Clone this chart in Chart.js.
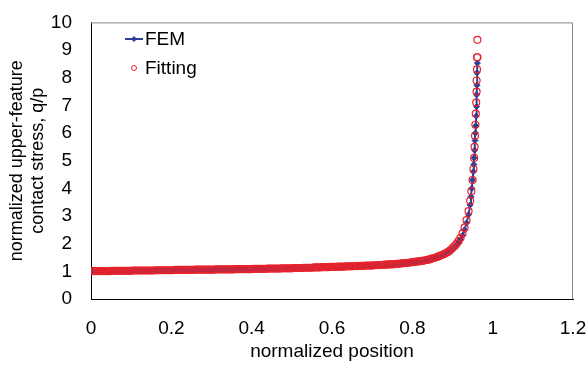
<!DOCTYPE html>
<html lang="en">
  <head>
    <meta charset="UTF-8" />
    <title>Normalized contact stress</title>
    <script src="https://cdn.jsdelivr.net/npm/chart.js"></script>
    <style>
      body {
        margin: 0;
        background: #fff;
      }
      .chart-container {
        width: 588px;
        height: 366px;
      }
    </style>
  </head>
  <body>
    <div class="chart-container">
      <canvas id="stressChart" width="588" height="366"></canvas>
    </div>

    <script>
      // normalized positions along the contact (shared by both series up to 0.90)
      const position = [
        0.0, 0.005, 0.01, 0.015, 0.02, 0.025, 0.03, 0.035, 0.04, 0.045,
        0.05, 0.055, 0.06, 0.065, 0.07, 0.075, 0.08, 0.085, 0.09, 0.095,
        0.1, 0.105, 0.11, 0.115, 0.12, 0.125, 0.13, 0.135, 0.14, 0.145,
        0.15, 0.155, 0.16, 0.165, 0.17, 0.175, 0.18, 0.185, 0.19, 0.195,
        0.2, 0.205, 0.21, 0.215, 0.22, 0.225, 0.23, 0.235, 0.24, 0.245,
        0.25, 0.255, 0.26, 0.265, 0.27, 0.275, 0.28, 0.285, 0.29, 0.295,
        0.3, 0.305, 0.31, 0.315, 0.32, 0.325, 0.33, 0.335, 0.34, 0.345,
        0.35, 0.355, 0.36, 0.365, 0.37, 0.375, 0.38, 0.385, 0.39, 0.395,
        0.4, 0.405, 0.41, 0.415, 0.42, 0.425, 0.43, 0.435, 0.44, 0.445,
        0.45, 0.455, 0.46, 0.465, 0.47, 0.475, 0.48, 0.485, 0.49, 0.495,
        0.5, 0.505, 0.51, 0.515, 0.52, 0.525, 0.53, 0.535, 0.54, 0.545,
        0.55, 0.555, 0.56, 0.565, 0.57, 0.575, 0.58, 0.585, 0.59, 0.595,
        0.6, 0.605, 0.61, 0.615, 0.62, 0.625, 0.63, 0.635, 0.64, 0.645,
        0.65, 0.655, 0.66, 0.665, 0.67, 0.675, 0.68, 0.685, 0.69, 0.695,
        0.7, 0.705, 0.71, 0.715, 0.72, 0.725, 0.73, 0.735, 0.74, 0.745,
        0.75, 0.755, 0.76, 0.765, 0.77, 0.775, 0.78, 0.785, 0.79, 0.795,
        0.8, 0.805, 0.81, 0.815, 0.82, 0.825, 0.83, 0.835, 0.84, 0.845,
        0.85, 0.855, 0.86, 0.865, 0.87, 0.875, 0.88, 0.885, 0.89, 0.895,
        0.9,
      ];

      const femBody = [
        1.0, 1.0, 1.0, 1.0, 1.0, 1.0, 1.01, 1.0, 1.01, 1.01,
        1.01, 1.01, 1.01, 1.01, 1.01, 1.01, 1.01, 1.01, 1.01, 1.02,
        1.01, 1.02, 1.02, 1.02, 1.02, 1.02, 1.02, 1.02, 1.02, 1.02,
        1.02, 1.02, 1.03, 1.03, 1.03, 1.03, 1.03, 1.03, 1.03, 1.03,
        1.03, 1.03, 1.04, 1.04, 1.04, 1.04, 1.04, 1.04, 1.04, 1.04,
        1.04, 1.04, 1.05, 1.05, 1.05, 1.05, 1.05, 1.05, 1.05, 1.05,
        1.05, 1.05, 1.06, 1.06, 1.06, 1.06, 1.06, 1.06, 1.06, 1.06,
        1.06, 1.06, 1.07, 1.07, 1.07, 1.07, 1.07, 1.07, 1.07, 1.07,
        1.07, 1.08, 1.08, 1.08, 1.08, 1.08, 1.08, 1.08, 1.09, 1.09,
        1.09, 1.09, 1.09, 1.09, 1.09, 1.1, 1.1, 1.1, 1.1, 1.1,
        1.1, 1.11, 1.11, 1.11, 1.11, 1.11, 1.12, 1.12, 1.12, 1.12,
        1.12, 1.13, 1.13, 1.13, 1.13, 1.14, 1.14, 1.14, 1.14, 1.15,
        1.15, 1.15, 1.15, 1.16, 1.16, 1.16, 1.16, 1.17, 1.17, 1.17,
        1.17, 1.18, 1.18, 1.18, 1.19, 1.19, 1.19, 1.2, 1.2, 1.2,
        1.2, 1.21, 1.21, 1.22, 1.22, 1.22, 1.23, 1.23, 1.24, 1.24,
        1.24, 1.25, 1.26, 1.26, 1.27, 1.28, 1.29, 1.29, 1.3, 1.31,
        1.32, 1.33, 1.34, 1.35, 1.36, 1.37, 1.38, 1.4, 1.41, 1.43,
        1.46, 1.48, 1.5, 1.52, 1.55, 1.58, 1.61, 1.65, 1.69, 1.75,
        1.81,
      ];

      const fitBody = [
        1.01, 1.01, 1.01, 1.01, 1.01, 1.01, 1.01, 1.01, 1.01, 1.01,
        1.02, 1.02, 1.02, 1.02, 1.02, 1.02, 1.02, 1.02, 1.02, 1.02,
        1.02, 1.03, 1.03, 1.03, 1.03, 1.03, 1.03, 1.03, 1.03, 1.03,
        1.03, 1.03, 1.04, 1.04, 1.04, 1.04, 1.04, 1.04, 1.04, 1.04,
        1.04, 1.04, 1.05, 1.05, 1.05, 1.05, 1.05, 1.05, 1.05, 1.05,
        1.05, 1.05, 1.06, 1.06, 1.06, 1.06, 1.06, 1.06, 1.06, 1.06,
        1.06, 1.06, 1.07, 1.07, 1.07, 1.07, 1.07, 1.07, 1.07, 1.07,
        1.07, 1.07, 1.08, 1.08, 1.08, 1.08, 1.08, 1.08, 1.08, 1.08,
        1.08, 1.09, 1.09, 1.09, 1.09, 1.09, 1.09, 1.09, 1.1, 1.1,
        1.1, 1.1, 1.1, 1.1, 1.1, 1.11, 1.11, 1.11, 1.11, 1.11,
        1.11, 1.12, 1.12, 1.12, 1.12, 1.12, 1.13, 1.13, 1.13, 1.13,
        1.13, 1.14, 1.14, 1.14, 1.14, 1.15, 1.15, 1.15, 1.15, 1.16,
        1.16, 1.16, 1.16, 1.17, 1.17, 1.17, 1.17, 1.18, 1.18, 1.18,
        1.18, 1.19, 1.19, 1.19, 1.2, 1.2, 1.2, 1.21, 1.21, 1.21,
        1.21, 1.22, 1.22, 1.23, 1.23, 1.23, 1.24, 1.24, 1.25, 1.25,
        1.25, 1.26, 1.27, 1.27, 1.28, 1.29, 1.3, 1.3, 1.31, 1.32,
        1.33, 1.34, 1.35, 1.36, 1.37, 1.38, 1.39, 1.41, 1.42, 1.44,
        1.47, 1.49, 1.51, 1.54, 1.57, 1.6, 1.63, 1.67, 1.71, 1.77,
        1.84,
      ];

      // steep rise near the edge of the contact
      const femTailX = [
        0.905, 0.91, 0.915, 0.92, 0.925, 0.93, 0.935, 0.94, 0.944, 0.946,
        0.948, 0.95, 0.952, 0.953, 0.954, 0.955, 0.956, 0.957, 0.958, 0.959,
        0.96, 0.96, 0.961, 0.961, 0.962,
      ];
      const femTailY = [
        1.88, 1.95, 2.04, 2.15, 2.3, 2.5, 2.75, 3.05, 3.4, 3.7,
        4.0, 4.3, 4.6, 4.86, 5.1, 5.38, 5.73, 6.0, 6.26, 6.61,
        6.96, 7.38, 7.73, 8.18, 8.53,
      ];

      const fitTailX = [
        0.905, 0.91, 0.915, 0.92, 0.925, 0.93, 0.935, 0.94, 0.944, 0.947,
        0.95, 0.952, 0.954, 0.955, 0.956, 0.957, 0.958, 0.959, 0.96, 0.96,
        0.961, 0.961, 0.962, 0.962,
      ];
      const fitTailY = [
        1.91, 1.99, 2.09, 2.21, 2.37, 2.58, 2.85, 3.18, 3.55, 3.9,
        4.3, 4.7, 5.1, 5.5, 5.9, 6.3, 6.7, 7.1, 7.5, 7.9,
        8.3, 8.74, 8.74, 9.37,
      ];

      const xTicks = [0, 0.2, 0.4, 0.6, 0.8, 1, 1.2];
      const yTicks = [0, 1, 2, 3, 4, 5, 6, 7, 8, 9, 10];

      const femColor = "#2b3f96";
      const fitColor = "#e8232b";
      const fontFamily = "'Liberation Sans', Arial, sans-serif";

      const toPoints = (xs, ys) => xs.map((x, i) => ({ x: x, y: ys[i] }));

      const femPoints = toPoints(position, femBody).concat(
        toPoints(femTailX, femTailY)
      );
      const fitPoints = toPoints(position, fitBody).concat(
        toPoints(fitTailX, fitTailY)
      );

      // grey frame on top/right of the plot area, like Excel
      const plotFrame = {
        id: "plotFrame",
        beforeDatasetsDraw(chart) {
          const { ctx, chartArea: a } = chart;
          ctx.save();
          ctx.strokeStyle = "#868686";
          ctx.lineWidth = 1;
          ctx.beginPath();
          ctx.moveTo(a.left, a.top + 0.5);
          ctx.lineTo(a.right - 0.5, a.top + 0.5);
          ctx.lineTo(a.right - 0.5, a.bottom);
          ctx.stroke();
          ctx.restore();
        },
      };

      // legend drawn inside the plot area, top left
      const insideLegend = {
        id: "insideLegend",
        afterDraw(chart) {
          const ctx = chart.ctx;
          ctx.save();
          ctx.font = "19px " + fontFamily;
          ctx.textBaseline = "middle";
          ctx.textAlign = "left";

          // FEM: line + diamond
          ctx.strokeStyle = femColor;
          ctx.lineWidth = 2;
          ctx.beginPath();
          ctx.moveTo(125, 39);
          ctx.lineTo(143, 39);
          ctx.stroke();
          ctx.fillStyle = femColor;
          ctx.beginPath();
          ctx.moveTo(134, 36);
          ctx.lineTo(137, 39);
          ctx.lineTo(134, 42);
          ctx.lineTo(131, 39);
          ctx.closePath();
          ctx.fill();
          ctx.fillStyle = "#000";
          ctx.fillText("FEM", 145, 40);

          // Fitting: hollow circle
          ctx.strokeStyle = fitColor;
          ctx.lineWidth = 1;
          ctx.beginPath();
          ctx.arc(134, 68, 2.5, 0, Math.PI * 2);
          ctx.stroke();
          ctx.fillText("Fitting", 145, 69);
          ctx.restore();
        },
      };

      const config = {
        type: "scatter",
        data: {
          datasets: [
            {
              label: "FEM",
              data: femPoints,
              showLine: true,
              borderColor: femColor,
              borderWidth: 2,
              backgroundColor: femColor,
              pointStyle: "rectRot",
              pointRadius: 3,
              pointBorderWidth: 1,
              order: 1,
            },
            {
              label: "Fitting",
              data: fitPoints,
              showLine: false,
              borderColor: fitColor,
              backgroundColor: "rgba(0,0,0,0)",
              pointStyle: "circle",
              pointRadius: 3.5,
              pointBorderWidth: 1.2,
              order: 0,
            },
          ],
        },
        options: {
          responsive: false,
          animation: false,
          layout: {
            padding: { top: 13, right: 15, left: 0, bottom: 0 },
          },
          plugins: {
            legend: { display: false },
            tooltip: { enabled: false },
          },
          scales: {
            x: {
              type: "linear",
              min: 0,
              max: 1.2,
              afterBuildTicks: (scale) => {
                scale.ticks = xTicks.map((v) => ({ value: v }));
              },
              afterFit: (scale) => {
                scale.height = 67;
                scale.paddingLeft = 0;
                scale.paddingRight = 0;
              },
              grid: { display: false },
              border: { display: true, color: "#000", width: 1 },
              ticks: {
                padding: 10,
                color: "#000",
                font: { family: fontFamily, size: 19 },
                callback: (v) => String(+v.toFixed(1)),
              },
              title: {
                display: true,
                text: "normalized position",
                color: "#000",
                font: { family: fontFamily, size: 19 },
                padding: { top: 0, bottom: 3 },
              },
            },
            y: {
              type: "linear",
              min: 0,
              max: 10,
              afterBuildTicks: (scale) => {
                scale.ticks = yTicks.map((v) => ({ value: v }));
              },
              afterFit: (scale) => {
                scale.width = 91;
              },
              grid: { display: false },
              border: { display: true, color: "#000", width: 1 },
              ticks: {
                padding: 11,
                color: "#000",
                font: { family: fontFamily, size: 19 },
              },
              title: {
                display: true,
                text: ["normalized upper-feature", "contact stress, q/p"],
                color: "#000",
                font: { family: fontFamily, size: 18, lineHeight: 1.2 },
                padding: { top: 6, bottom: 0 },
              },
            },
          },
        },
        plugins: [plotFrame, insideLegend],
      };

      window.onload = function () {
        const ctx = document.getElementById("stressChart").getContext("2d");
        new Chart(ctx, config);
      };
    </script>
  </body>
</html>
